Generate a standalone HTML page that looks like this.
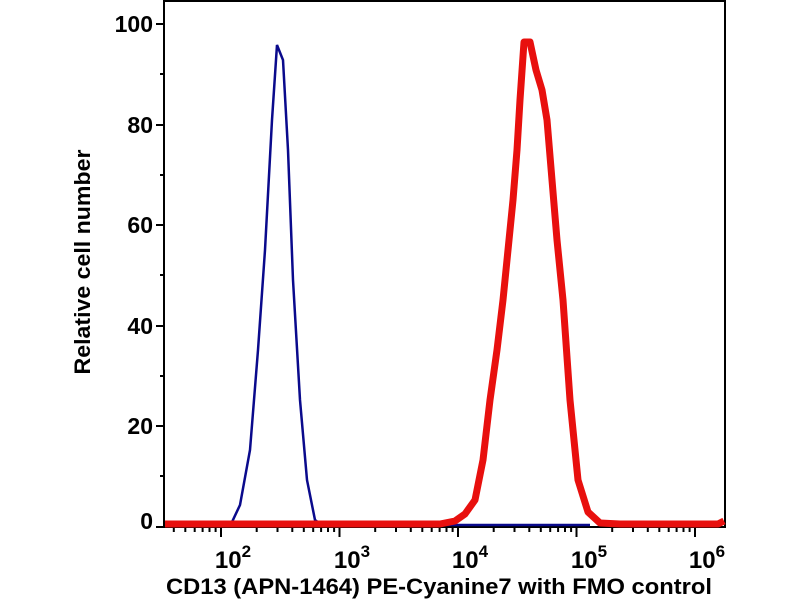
<!DOCTYPE html>
<html><head><style>body{margin:0;background:#fff}</style></head><body>
<svg width="800" height="600" xmlns="http://www.w3.org/2000/svg" font-family="Liberation Sans, sans-serif" font-weight="bold">
<rect x="164" y="1" width="561" height="526" fill="none" stroke="#000" stroke-width="2"/>
<g stroke="#000" stroke-width="2">
<line x1="156" y1="24" x2="164" y2="24"/><line x1="156" y1="125" x2="164" y2="125"/><line x1="156" y1="225" x2="164" y2="225"/><line x1="156" y1="326" x2="164" y2="326"/><line x1="156" y1="426" x2="164" y2="426"/><line x1="156" y1="527" x2="164" y2="527"/>
<line x1="160" y1="74" x2="164" y2="74"/><line x1="160" y1="175" x2="164" y2="175"/><line x1="160" y1="275" x2="164" y2="275"/><line x1="160" y1="376" x2="164" y2="376"/><line x1="160" y1="476" x2="164" y2="476"/>
</g>
<g stroke="#000" stroke-width="2">
<line x1="173.8" y1="527" x2="173.8" y2="532"/><line x1="185.3" y1="527" x2="185.3" y2="532"/><line x1="194.7" y1="527" x2="194.7" y2="532"/><line x1="202.6" y1="527" x2="202.6" y2="532"/><line x1="209.5" y1="527" x2="209.5" y2="532"/><line x1="215.6" y1="527" x2="215.6" y2="532"/>
<line x1="221" y1="527" x2="221" y2="537"/>
<line x1="256.7" y1="527" x2="256.7" y2="532"/><line x1="277.5" y1="527" x2="277.5" y2="532"/><line x1="292.3" y1="527" x2="292.3" y2="532"/><line x1="303.8" y1="527" x2="303.8" y2="532"/><line x1="313.2" y1="527" x2="313.2" y2="532"/><line x1="321.1" y1="527" x2="321.1" y2="532"/><line x1="328" y1="527" x2="328" y2="532"/><line x1="334.1" y1="527" x2="334.1" y2="532"/>
<line x1="339.5" y1="527" x2="339.5" y2="537"/>
<line x1="375.2" y1="527" x2="375.2" y2="532"/><line x1="396" y1="527" x2="396" y2="532"/><line x1="410.8" y1="527" x2="410.8" y2="532"/><line x1="422.3" y1="527" x2="422.3" y2="532"/><line x1="431.7" y1="527" x2="431.7" y2="532"/><line x1="439.6" y1="527" x2="439.6" y2="532"/><line x1="446.5" y1="527" x2="446.5" y2="532"/><line x1="452.6" y1="527" x2="452.6" y2="532"/>
<line x1="458" y1="527" x2="458" y2="537"/>
<line x1="493.7" y1="527" x2="493.7" y2="532"/><line x1="514.5" y1="527" x2="514.5" y2="532"/><line x1="529.3" y1="527" x2="529.3" y2="532"/><line x1="540.8" y1="527" x2="540.8" y2="532"/><line x1="550.2" y1="527" x2="550.2" y2="532"/><line x1="558.1" y1="527" x2="558.1" y2="532"/><line x1="565" y1="527" x2="565" y2="532"/><line x1="571.1" y1="527" x2="571.1" y2="532"/>
<line x1="576.5" y1="527" x2="576.5" y2="537"/>
<line x1="612.2" y1="527" x2="612.2" y2="532"/><line x1="633" y1="527" x2="633" y2="532"/><line x1="647.8" y1="527" x2="647.8" y2="532"/><line x1="659.3" y1="527" x2="659.3" y2="532"/><line x1="668.7" y1="527" x2="668.7" y2="532"/><line x1="676.6" y1="527" x2="676.6" y2="532"/><line x1="683.5" y1="527" x2="683.5" y2="532"/><line x1="689.6" y1="527" x2="689.6" y2="532"/>
<line x1="695" y1="527" x2="695" y2="537"/>
</g>
<g font-size="23" text-anchor="end">
<text x="153" y="32">100</text><text x="153" y="133">80</text><text x="153" y="233">60</text><text x="153" y="334">40</text><text x="153" y="434">20</text><text x="153" y="529">0</text>
</g>
<g font-size="24" text-anchor="middle">
<text x="233" y="568">10<tspan font-size="17" dy="-11">2</tspan></text>
<text x="352" y="568">10<tspan font-size="17" dy="-11">3</tspan></text>
<text x="470" y="568">10<tspan font-size="17" dy="-11">4</tspan></text>
<text x="589" y="568">10<tspan font-size="17" dy="-11">5</tspan></text>
<text x="707" y="568">10<tspan font-size="17" dy="-11">6</tspan></text>
</g>
<text x="439" y="594" font-size="22" text-anchor="middle" textLength="546" lengthAdjust="spacingAndGlyphs">CD13 (APN-1464) PE-Cyanine7 with FMO control</text>
<text transform="translate(90,262) rotate(-90)" font-size="22" text-anchor="middle" textLength="225" lengthAdjust="spacingAndGlyphs">Relative cell number</text>
<polyline fill="none" stroke="#0a0a8c" stroke-width="2.5" points="165,525 225,525 232,522 240,505 250,450 258,350 265,250 272,120 277,45 283,60 288,150 293,280 300,400 307,480 315,520 322,525 590,525"/>
<polyline fill="none" stroke="#e8100e" stroke-width="7" stroke-linejoin="round" points="165,524 440,524 455,521 465,514 475,500 483,460 490,400 497,350 503,300 508,250 513,200 517,150 520,100 524,42 530,42 536,70 542,90 547,120 552,180 557,240 563,300 570,400 578,480 588,512 600,523 620,524 718,524 724,521"/>
</svg>
</body></html>
